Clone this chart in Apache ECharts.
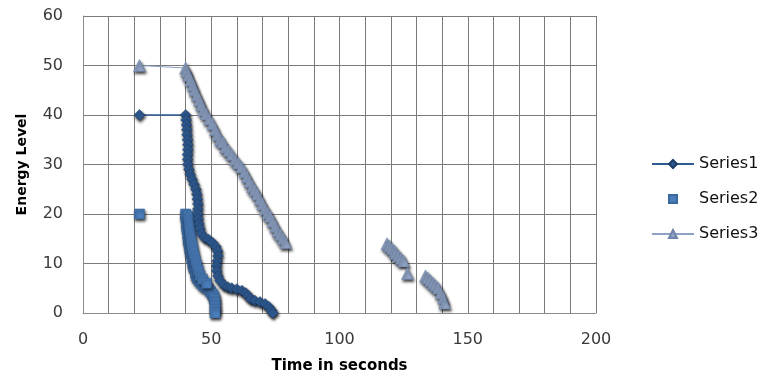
<!DOCTYPE html>
<html>
<head>
<meta charset="utf-8">
<script src="https://cdn.jsdelivr.net/npm/echarts@6/dist/echarts.min.js"></script>
<style>
html,body{margin:0;padding:0;background:#fff;}
#chart{width:763px;height:379px;}
</style>
</head>
<body>
<div id="chart"></div>
<script>
// ---- data ----
const seriesNames = ['Series1', 'Series2', 'Series3'];
const xAxisTitle = 'Time in seconds';
const yAxisTitle = 'Energy Level';
const xLabelEvery = 50;

// Series1 (diamonds, connected)
const series1Points = [
  [22,40],[40,40],[40.2,39],[40.4,38],[40.5,37],[40.6,36],[40.8,35],[40.9,34],[40.9,33],
  [40.8,32],[40.8,31],[40.9,30],[41.3,29],[41.8,28],[42.5,27],[43.3,26],[44,25],[44.4,24],
  [44.6,23],[44.8,22],[44.8,21],[44.8,20],[44.9,19],[45.2,18],[45.6,17],[46.2,16],
  [47.5,15.2],[49,14.8],[50.5,14.2],[51.8,13.4],[52.5,12.5],[52.6,11.5],[52.3,10.5],
  [52.1,9.5],[52.2,8.5],[52.6,7.5],[53.5,6.5],[55,5.6],[56.5,5.2],[58,5],[60,4.8],
  [62,4.5],[63.5,4],[64.5,3.4],[65.5,2.8],[67,2.5],[69,2.2],[71,1.8],[72.5,1.2],[73.5,0.5],[74,0]
];
// Series2 (squares, markers only)
const series2Points = [
  [22,20],[40,20],[40.1,19.5],[40.3,19],[40.4,18],[40.5,17.5],[40.6,17],[40.8,16],[41,15],
  [41.2,14.5],[41.4,14],[41.6,13],[41.9,12.5],[42.1,12],[42.4,11],[42.8,10],[43.1,9.5],
  [43.4,9],[43.9,8],[44.2,7.5],[44.7,7],[45.4,6.5],[46.2,6],[47,5.5],[48,5.2],[49,4.8],
  [49.8,4.3],[50.5,3.8],[51,3.3],[51.3,2.8],[51.5,2],[51.5,1.3],[51.5,0.6],[51.5,0],
  [41.1,19.6],[41.3,18.6],[41.5,17.6],[41.7,16.6],[41.9,15.6],[42.2,14.6],[42.5,13.6],
  [42.9,12.6],[43.3,11.6],[43.8,10.6],[44.3,9.6],[44.9,8.6],[45.6,7.6],[46.6,6.8],[48.2,6]
];
// Series3 (triangles, connected, with gaps)
const series3Points = [
  [22,50],[40,49.5],[40.5,48.8],[41.2,48],[42,47],[42.9,46],[43.6,45],[44.5,44],[45.4,43],
  [46.2,42],[47,41],[48,40.2],[49.2,39.2],[50.5,38.2],[51.5,37],[52.5,36],[53.5,35],
  [54.6,34.5],[55.5,33.5],[56.8,32.8],[58,32],[59.3,31],[60.5,30.3],[61.8,29.5],[63,28.5],
  [64,27.5],[65,26.5],[66,25.5],[67,24.8],[68,24],[69,23],[70,22],[71,21],[72,20.2],
  [73,19.5],[74,18.5],[75,17.5],[76,16.5],[77,15.8],[78,15],[79,14.2],
  null,
  [118.5,14],[119.5,13.5],[120.5,13],[121.5,12.5],[122,12],[123,11.5],[124,11],[125,10.5],
  null,
  [126.5,8],
  null,
  [133.5,7.5],[134.5,7],[135.5,6.5],[136.5,6],[137.5,5.5],[138.5,5],[139.5,4],[140.5,3],[141,2]
];

const shadow = {shadowBlur: 3, shadowColor: 'rgba(0,0,0,0.8)', shadowOffsetX: 1, shadowOffsetY: 2};

const chart = echarts.init(document.getElementById('chart'), null, {renderer: 'canvas'});
chart.setOption({
  animation: false,
  backgroundColor: '#ffffff',
  textStyle: {fontFamily: 'DejaVu Sans, Liberation Sans, sans-serif'},
  grid: {left: 83, right: 167, top: 16, bottom: 66, containLabel: false},
  xAxis: {
    type: 'value', min: 0, max: 200, interval: 10,
    name: xAxisTitle, nameLocation: 'middle', nameGap: 46,
    nameTextStyle: {fontWeight: 'bold', fontSize: 15, color: '#000', fontFamily: 'DejaVu Sans'},
    axisLine: {show: true, lineStyle: {color: '#8c8c8c', width: 1}},
    axisTick: {show: false},
    axisLabel: {
      color: '#3a3a3a', fontSize: 16, margin: 19,
      formatter: v => (v % xLabelEvery === 0 ? String(v) : '')
    },
    splitLine: {show: true, lineStyle: {color: '#7a7a7a', width: 1}}
  },
  yAxis: {
    type: 'value', min: 0, max: 60, interval: 10,
    name: yAxisTitle, nameLocation: 'middle', nameRotate: 90, nameGap: 54,
    nameTextStyle: {fontWeight: 'bold', fontSize: 14, color: '#000', fontFamily: 'DejaVu Sans'},
    axisLine: {show: true, lineStyle: {color: '#8c8c8c', width: 1}},
    axisTick: {show: false},
    axisLabel: {color: '#3a3a3a', fontSize: 16, margin: 20},
    splitLine: {show: true, lineStyle: {color: '#7a7a7a', width: 1}}
  },
  legend: {
    orient: 'vertical', left: 646, top: 151, itemGap: 19, itemWidth: 42, itemHeight: 10,
    textStyle: {fontSize: 16, color: '#111'},
    data: seriesNames
  },
  series: [
    {
      name: seriesNames[0], type: 'line', data: series1Points,
      symbol: 'diamond', symbolSize: 11, connectNulls: false,
      lineStyle: {color: '#2f5b92', width: 1.5},
      itemStyle: Object.assign({color: '#2f5b92', borderColor: '#1e3d66', borderWidth: 0.5}, shadow),
      z: 3
    },
    {
      name: seriesNames[1], type: 'line', data: series2Points,
      symbol: 'rect', symbolSize: 10, connectNulls: false,
      lineStyle: {width: 0, opacity: 0},
      itemStyle: Object.assign({color: '#4a7ebb', borderColor: '#3a679c', borderWidth: 0.5}, shadow),
      z: 2
    },
    {
      name: seriesNames[2], type: 'line', data: series3Points,
      symbol: 'triangle', symbolSize: 12, connectNulls: false,
      lineStyle: {color: '#8ea2c4', width: 1.2},
      itemStyle: Object.assign({color: '#8ea2c4', borderColor: '#6f84a8', borderWidth: 0.5}, shadow),
      z: 4
    }
  ]
});
</script>
</body>
</html>
